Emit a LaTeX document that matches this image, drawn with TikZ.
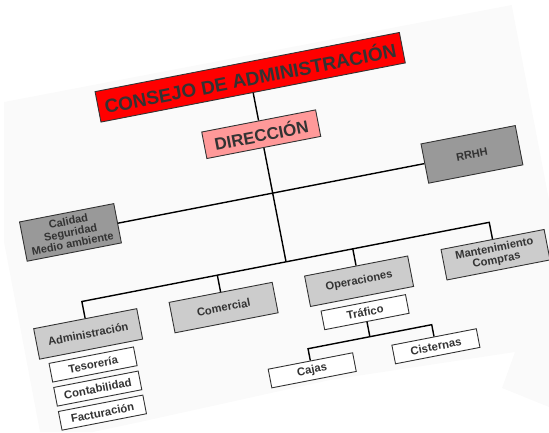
\documentclass[tikz,border=0pt]{standalone}
\usepackage{fontspec}
\setmainfont{Liberation Sans}
\definecolor{consejored}{HTML}{FF0000}
\definecolor{direccionpink}{HTML}{FF9999}
\definecolor{staffgray}{HTML}{999999}
\definecolor{areagray}{HTML}{CCCCCC}
\definecolor{pagegray}{HTML}{FAFAFA}
\definecolor{labelgray}{HTML}{333333}
\tikzset{
  orgbox/.style={draw=black!80, line width=0.9pt, inner sep=0pt, align=center, text=labelgray, transform shape},
  consejobox/.style={orgbox, fill=consejored, minimum width=310pt, minimum height=31pt, font=\bfseries\fontsize{19}{21}\selectfont},
  direccionbox/.style={orgbox, fill=direccionpink, minimum width=116pt, minimum height=27pt, font=\bfseries\fontsize{17}{19}\selectfont},
  staffbox/.style={orgbox, fill=staffgray, minimum width=96pt, minimum height=40pt, font=\bfseries\fontsize{11}{11.5}\selectfont},
  areabox/.style={orgbox, fill=areagray, minimum width=105pt, minimum height=31pt, font=\bfseries\fontsize{11.2}{11.8}\selectfont},
  taskbox/.style={orgbox, fill=white, minimum width=86pt, minimum height=19pt, font=\bfseries\fontsize{11.3}{12}\selectfont},
  link/.style={line width=1.4pt, black}
}
\begin{document}
\begin{tikzpicture}[x=1pt, y=1pt]
  \useasboundingbox (0,0) rectangle (549,432);
  \fill[pagegray] (4,330) -- (511.7,427) -- (549,232) -- (549,25) -- (502,44) -- (515,80) -- (330,52) -- (140,10) -- (93,0) -- (40,0) -- (4,190) -- cycle;
  \begin{scope}[shift={(271.7,238.7)}, rotate=11]
    \node[consejobox] (consejo) at (1,118) {CONSEJO DE ADMINISTRACIÓN};
    \node[direccionbox] (direccion) at (1,60) {DIRECCIÓN};
    \node[staffbox] (calidad) at (-205,0) {Calidad\\Seguridad\\Medio ambiente};
    \node[staffbox] (rrhh) at (204,0) {RRHH};
    \node[areabox] (admin) at (-207,-103) {Administración};
    \node[areabox] (comercial) at (-69,-103) {Comercial};
    \node[areabox] (operaciones) at (69,-103) {Operaciones};
    \node[areabox] (mant) at (208,-103) {Mantenimiento\\Compras};
    \node[taskbox] (tesoreria) at (-208,-134) {Tesorería};
    \node[taskbox] (contabilidad) at (-208,-158.5) {Contabilidad};
    \node[taskbox] (facturacion) at (-208,-183) {Facturación};
    \node[taskbox] (trafico) at (69,-134.5) {Tráfico};
    \node[taskbox] (cajas) at (6,-181.5) {Cajas};
    \node[taskbox] (cisternas) at (132,-181.5) {Cisternas};
    \coordinate (areajoin) at (1,-70);
    \coordinate (adminbus) at (-207,-70);
    \coordinate (comercialbus) at (-69,-70);
    \coordinate (operacionesbus) at (69,-70);
    \coordinate (mantbus) at (208,-70);
    \coordinate (traficojoin) at (69,-159.5);
    \coordinate (cajasbus) at (6,-159.5);
    \coordinate (cisternasbus) at (132,-159.5);
    \draw[link] (consejo.south) -- (direccion.north);
    \draw[link] (direccion.south) -- (areajoin);
    \draw[link] (calidad.east) -- (rrhh.west);
    \draw[link] (admin.north) -- (adminbus) -- (mantbus) -- (mant.north);
    \draw[link] (comercial.north) -- (comercialbus);
    \draw[link] (operaciones.north) -- (operacionesbus);
    \draw[link] (trafico.south) -- (traficojoin);
    \draw[link] (cajas.north) -- (cajasbus) -- (cisternasbus) -- (cisternas.north);
  \end{scope}
\end{tikzpicture}
\end{document}
